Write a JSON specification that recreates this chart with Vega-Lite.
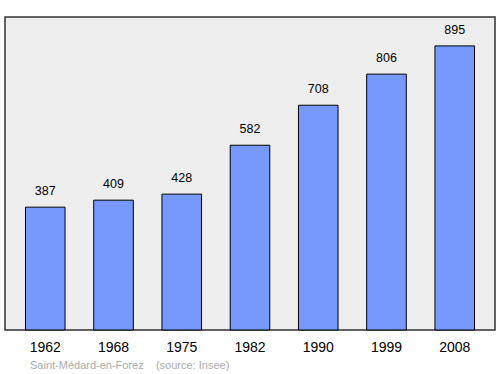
{
  "$schema": "https://vega.github.io/schema/vega-lite/v6.json",
  "autosize": "none",
  "width": 490,
  "height": 313,
  "padding": {"left": 5, "top": 17, "right": 5, "bottom": 44},
  "background": "white",
  "config": {
    "font": "Liberation Sans",
    "view": {"fill": "#eeeeee", "stroke": "#333333", "strokeWidth": 1.5}
  },
  "title": {
    "text": "Saint-Médard-en-Forez\u00a0\u00a0\u00a0\u00a0(source: Insee)",
    "orient": "bottom",
    "anchor": "start",
    "dx": 25,
    "offset": 6,
    "fontSize": 11,
    "fontWeight": "normal",
    "color": "#aaaaaa"
  },
  "data": {
    "values": [
      {"year": "1962", "pop": 387},
      {"year": "1968", "pop": 409},
      {"year": "1975", "pop": 428},
      {"year": "1982", "pop": 582},
      {"year": "1990", "pop": 708},
      {"year": "1999", "pop": 806},
      {"year": "2008", "pop": 895}
    ]
  },
  "encoding": {
    "x": {
      "field": "year",
      "type": "ordinal",
      "sort": null,
      "scale": {"paddingInner": 0.42, "paddingOuter": 0.3},
      "axis": {"title": null, "ticks": false, "domain": false, "labelAngle": 0, "labelFontSize": 14, "labelColor": "#000000", "labelPadding": 10}
    },
    "y": {
      "field": "pop",
      "type": "quantitative",
      "scale": {"domain": [0, 986], "nice": false},
      "axis": null
    }
  },
  "layer": [
    {"mark": {"type": "bar", "color": "#7799ff", "stroke": "#000000", "strokeWidth": 1}},
    {"mark": {"type": "text", "baseline": "bottom", "dy": -9, "fontSize": 12.5, "color": "#000000"}, "encoding": {"text": {"field": "pop"}}}
  ]
}
